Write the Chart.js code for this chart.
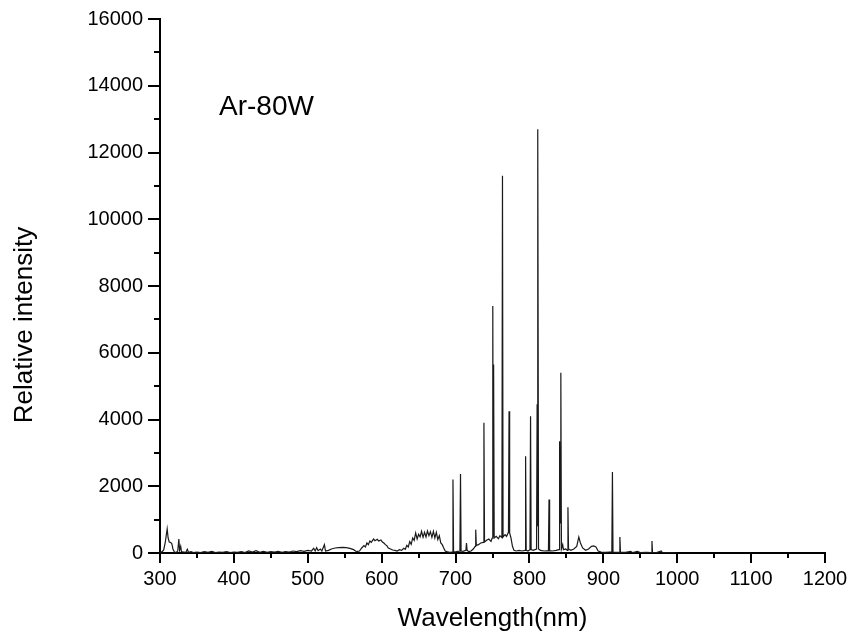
<!DOCTYPE html>
<html>
<head>
<meta charset="utf-8">
<script src="https://cdn.jsdelivr.net/npm/chart.js@4.4.0/dist/chart.umd.min.js"></script>
<style>
html, body { margin: 0; padding: 0; background: #fff; }
</style>
</head>
<body>
<canvas id="spectrum" width="854" height="641"></canvas>
<script>
// Ar-80W emission spectrum
var wavelength = [
  300, 303, 305, 307, 309.7, 311, 312.5, 314, 316, 317.5, 319.5, 322, 324, 325.5, 326.5, 328, 329, 332, 335, 337, 338.5,
  342, 345, 350, 355, 360, 365, 370, 375, 380, 385, 390, 395, 400, 405, 410, 415, 420, 425, 430, 435, 440, 445, 450,
  455, 460, 465, 470, 475, 480, 485, 490, 495, 500, 505, 508, 510, 512, 514, 517, 519, 522.5, 524, 528, 532, 537, 542,
  547, 552, 557, 562, 566, 570, 573, 576, 578, 580, 582, 584, 586, 589, 591, 594, 596, 599, 601, 603, 605, 607, 609,
  612, 615, 618, 621, 624, 627, 630, 632, 634, 636, 638, 640, 642, 644, 646, 648, 650, 652, 654, 656, 658, 660, 662,
  664, 666, 668, 670, 672, 674, 676, 678, 680, 682, 684, 686, 688, 692,
  695.7, 696.5, 697.3, 701, 705.9, 706.7, 707.5, 710, 714, 714.8, 715.6, 718, 721, 724, 726.5, 727.3, 728.1, 731, 734,
  737.6, 738.4, 739.2, 742, 745, 748, 749.6, 750.4, 751, 751.5, 752.3, 755, 758, 760, 762.7, 763.5, 764.3, 767, 769,
  771.6, 772.4, 773.2, 775, 777, 779, 782, 786, 790, 794, 794.8, 795.6, 798, 800.7, 801.5, 802.3, 805, 809.6, 810.4,
  811, 811.5, 812.3, 815, 820, 825.7, 826.5, 827.3, 831, 836, 840, 840.8, 841.5, 842.5, 843.3, 845, 846, 849, 851.3,
  852.1, 852.9, 856, 860, 864, 866.8, 869, 872, 876, 880, 884, 887, 890, 893, 897, 903, 908, 911.5, 912.3, 913.1, 917,
  921.6, 922.4, 923.2, 930, 937, 940, 946, 950, 958, 965, 965.8, 966.6, 972, 978.4, 980, 990, 1000
];
var intensity = [
  20, 40, 90, 300, 720, 450, 330, 320, 280, 120, 30, 20, 60, 420, 80, 200, 40, 30, 20, 110, 20,
  40, 10, 30, 10, 40, 20, 50, 10, 30, 20, 40, 10, 30, 20, 40, 10, 60, 30, 70, 20, 50, 20, 40,
  30, 50, 20, 40, 30, 60, 40, 70, 50, 80, 60, 140, 60, 160, 70, 120, 60, 250, 60, 80, 120, 150, 160,
  170, 160, 140, 100, 40, 60, 150, 220, 180, 300, 250, 360, 320, 420, 370, 410, 360, 390, 330, 300, 250, 220, 150,
  120, 90, 80, 60, 100, 80, 140, 110, 230, 180, 340, 260, 450, 380, 600, 420, 560, 480, 650, 470, 620, 480, 660,
  520, 640, 470, 650, 450, 620, 400, 520, 300, 250, 150, 60, 40, 20,
  30, 2200, 30, 40, 60, 2370, 60, 50, 80, 300, 80, 40, 60, 120, 200, 700, 230, 250, 300,
  320, 3900, 330, 380, 420, 350, 450, 7400, 500, 5650, 450, 500, 430, 520, 460, 11300, 480, 550, 500,
  620, 4250, 600, 450, 200, 80, 60, 80, 60, 80, 2900, 80, 60, 100, 4100, 100, 80, 120, 4460,
  800, 12700, 120, 80, 60, 70, 1600, 70, 60, 80, 100, 3350, 900, 5400, 120, 250, 100, 120, 80,
  1370, 120, 80, 120, 200, 480, 300, 150, 80, 120, 200, 210, 180, 60, 30, 20, 30, 30, 2430, 30, 20,
  20, 480, 20, 20, 50, 10, 50, 10, 20, 10, 360, 10, 10, 60, 5, 10, 0
];
var xTickLabels = [300, 400, 500, 600, 700, 800, 900, 1000, 1100, 1200];
var yTickLabels = [0, 2000, 4000, 6000, 8000, 10000, 12000, 14000, 16000];
var sampleLabel = 'Ar-80W';
var xTitle = 'Wavelength(nm)';
var yTitle = 'Relative intensity';

var FONT = '"Liberation Sans", Arial, sans-serif';

var points = wavelength.map(function(w, i) { return { x: w, y: intensity[i] }; });

// minor ticks halfway between the major ones, plus the text labels
var extras = {
  id: 'extras',
  afterDraw: function(chart) {
    var ctx = chart.ctx, xs = chart.scales.x, ys = chart.scales.y, area = chart.chartArea;
    ctx.save();
    ctx.strokeStyle = '#000';
    ctx.lineWidth = 2;
    for (var i = 0; i < xTickLabels.length - 1; i++) {
      var px = Math.round(xs.getPixelForValue((xTickLabels[i] + xTickLabels[i + 1]) / 2));
      ctx.beginPath(); ctx.moveTo(px, area.bottom); ctx.lineTo(px, area.bottom + 5); ctx.stroke();
    }
    for (var j = 0; j < yTickLabels.length - 1; j++) {
      var py = Math.round(ys.getPixelForValue((yTickLabels[j] + yTickLabels[j + 1]) / 2));
      ctx.beginPath(); ctx.moveTo(area.left, py); ctx.lineTo(area.left - 6, py); ctx.stroke();
    }
    ctx.fillStyle = '#000';
    ctx.textBaseline = 'alphabetic';
    ctx.font = '28px ' + FONT;
    ctx.textAlign = 'left';
    ctx.fillText(sampleLabel, 219, 115);
    ctx.font = '26px ' + FONT;
    ctx.textAlign = 'center';
    ctx.textBaseline = 'middle';
    ctx.fillText(xTitle, (area.left + area.right) / 2, 619);
    ctx.translate(25, 325);
    ctx.rotate(-Math.PI / 2);
    ctx.fillText(yTitle, 0, 0);
    ctx.restore();
  }
};

function plain(v) { return String(v); }

new Chart(document.getElementById('spectrum'), {
  type: 'line',
  data: {
    datasets: [{
      data: points,
      borderColor: '#1a1a1a',
      borderWidth: 1.2,
      pointRadius: 0,
      tension: 0,
      fill: false
    }]
  },
  options: {
    responsive: false,
    animation: false,
    devicePixelRatio: 1,
    layout: { padding: { top: 19, right: 29, left: 0, bottom: 0 } },
    plugins: { legend: { display: false }, tooltip: { enabled: false } },
    scales: {
      x: {
        type: 'linear',
        min: 300,
        max: 1200,
        afterFit: function(s) { s.height = 88; },
        afterBuildTicks: function(s) { s.ticks = xTickLabels.map(function(v) { return { value: v }; }); },
        ticks: { color: '#000', font: { size: 20, family: FONT }, padding: 4, maxRotation: 0, autoSkip: false, callback: plain },
        grid: { drawOnChartArea: false, drawTicks: true, tickLength: 10, lineWidth: 2, color: '#000' },
        border: { display: true, color: '#000', width: 2 }
      },
      y: {
        min: 0,
        max: 16000,
        afterFit: function(s) { s.width = 160; },
        afterBuildTicks: function(s) { s.ticks = yTickLabels.map(function(v) { return { value: v }; }); },
        ticks: { color: '#000', font: { size: 20, family: FONT }, padding: 5, autoSkip: false, callback: plain },
        grid: { drawOnChartArea: false, drawTicks: true, tickLength: 12, lineWidth: 2, color: '#000' },
        border: { display: true, color: '#000', width: 2 }
      }
    }
  },
  plugins: [extras]
});
</script>
</body>
</html>
